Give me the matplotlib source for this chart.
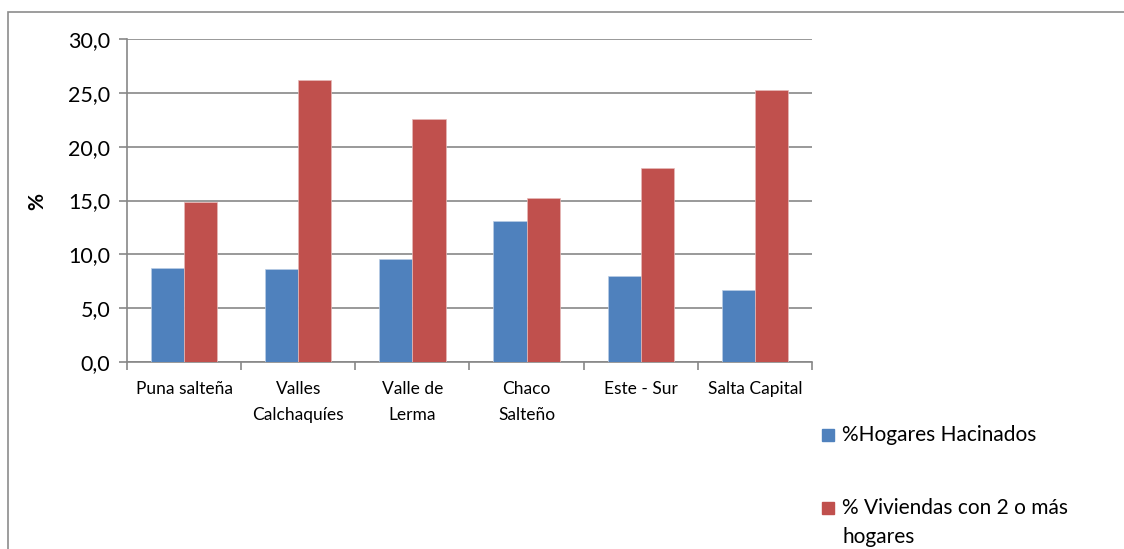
import matplotlib
matplotlib.use("Agg")
import matplotlib.pyplot as plt
import numpy as np
from matplotlib.patches import Rectangle

categories = ["Puna salteña", "Valles\nCalchaquíes", "Valle de\nLerma", "Chaco\nSalteño", "Este - Sur", "Salta Capital"]
hacinados = [8.7, 8.6, 9.6, 13.1, 8.0, 6.7]
viviendas = [14.9, 26.2, 22.6, 15.2, 18.0, 25.3]
series_names = ["%Hogares Hacinados", "% Viviendas con 2 o más\nhogares"]
yticks = [0, 5, 10, 15, 20, 25, 30]
ytick_labels = ["0,0", "5,0", "10,0", "15,0", "20,0", "25,0", "30,0"]

plt.rcParams['font.family'] = ['Lato', 'DejaVu Sans']

W, H = 1124, 549
fig = plt.figure(figsize=(W/100, H/100), dpi=100)
# outer chart border
fig.patches.append(Rectangle((8/W, -0.1), 1.2, (H-12)/H + 0.1, transform=fig.transFigure,
                             fill=False, edgecolor="#8c8c8c", linewidth=1.2))

ax = fig.add_axes([127/W, 1-362/H, (812-127)/W, (362-39)/H])
blue = "#4f81bd"
red = "#c0504d"
x = np.arange(len(categories))
w = 0.29
ax.bar(x - w/2, hacinados, width=w, color=blue, edgecolor="#b9cde5", linewidth=0.5, zorder=3, label=series_names[0])
ax.bar(x + w/2, viviendas, width=w, color=red, edgecolor="#e6b9b8", linewidth=0.5, zorder=3, label=series_names[1])

ax.set_xlim(-0.5, len(categories) - 0.5)
ax.set_ylim(0, 30)
ax.set_yticks(yticks)
ax.set_yticklabels(ytick_labels, fontsize=15.5)
ax.yaxis.grid(True, color="#878787", linewidth=1.2, zorder=0)
ax.set_axisbelow(True)

ax.set_xticks(np.arange(len(categories) + 1) - 0.5, minor=False)
ax.set_xticklabels([])
ax.set_xticks(x, minor=True)
ax.set_xticklabels(categories, minor=True, fontsize=12.5, linespacing=1.75)
ax.tick_params(axis='x', which='minor', length=0, pad=14)
ax.tick_params(axis='x', which='major', length=6, color="#878787", width=1.2)
ax.tick_params(axis='y', length=6, color="#878787", width=1.2, pad=6)

for s in ["top", "right"]:
    ax.spines[s].set_visible(False)
for s in ["left", "bottom"]:
    ax.spines[s].set_color("#878787")
    ax.spines[s].set_linewidth(1.2)

fig.text(37/W, 1-201/H, "%", rotation=90, fontsize=15, fontweight="bold", ha="center", va="center")

# legend
fs = 15
fig.patches.append(Rectangle((822/W, 1-441/H), 12/W, 12/H, transform=fig.transFigure, color=blue))
fig.text(842/W, 1-435/H, series_names[0], fontsize=fs, va="center", ha="left")
fig.patches.append(Rectangle((822/W, 1-514/H), 12/W, 12/H, transform=fig.transFigure, color=red))
fig.text(842/W, 1-508/H, series_names[1].split("\n")[0], fontsize=fs, va="center", ha="left")
fig.text(842/W, 1-537/H, series_names[1].split("\n")[1], fontsize=fs, va="center", ha="left")

fig.savefig("out.png", dpi=100)
